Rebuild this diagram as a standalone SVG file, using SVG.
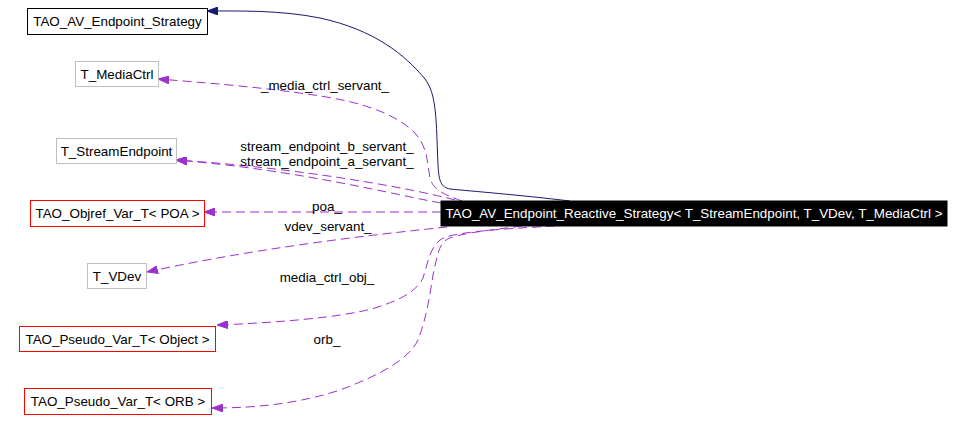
<svg xmlns="http://www.w3.org/2000/svg" width="966" height="431" viewBox="0 0 966 431">
<style>
text{font-family:"Liberation Sans",Arial,sans-serif;font-size:13.4px;text-anchor:middle;fill:#000}
.box{fill:#fff;stroke-width:1}
.blk{stroke:#000}
.gry{stroke:#bfbfbf}
.red{stroke:#ff0000}
.use{fill:none;stroke:#9a32cd;stroke-width:1;stroke-dasharray:9,5}
.inh{fill:none;stroke:#191970;stroke-width:1}
.main{fill:#000;stroke:#000}
.wt{fill:#fff}
</style>
<defs>
<marker id="ap" markerUnits="userSpaceOnUse" viewBox="0 0 11 8" refX="11" refY="4" markerWidth="11" markerHeight="8" orient="auto">
<path d="M0,0 L11,4 L0,8 Z" fill="#9a32cd" stroke="#9a32cd" stroke-width="1"/>
</marker>
<marker id="an" markerUnits="userSpaceOnUse" viewBox="0 0 11 8" refX="11" refY="4" markerWidth="11" markerHeight="8" orient="auto">
<path d="M0,0 L11,4 L0,8 Z" fill="#191970" stroke="#191970" stroke-width="1"/>
</marker>
</defs>
<rect width="966" height="431" fill="#fff"/>
<g id="edges">
<path class="inh" marker-end="url(#an)" d="M570,201 C520,195 470,191 450,189 C441,187 439,182 438,165 C436,120 437,95 425,79 C405,55 375,30 320,18 C280,10 240,11 207,11"/>
<path class="use" marker-end="url(#ap)" d="M462,201 C445,195 433,190 430,178 C427,162 428,148 415,133 C395,113 360,102 320,96 C270,88 210,83 158,79"/>
<path class="use" marker-end="url(#ap)" d="M455,200 C410,188 300,168 176,160"/>
<path class="use" marker-end="url(#ap)" d="M441,203 C400,196 300,170 176,160"/>
<path class="use" marker-end="url(#ap)" d="M441,212 L204,212"/>
<path class="use" marker-end="url(#ap)" d="M447,227 C400,232 270,245 147,272"/>
<path class="use" marker-end="url(#ap)" d="M555,226 C500,229 450,232 440,240 C430,248 428,262 423,278 C416,292 400,300 375,308 C340,318 270,323 217,325"/>
<path class="use" marker-end="url(#ap)" d="M522,226 C490,230 455,234 446,240 C438,246 437,258 433,275 C430,295 426,320 418,340 C408,360 380,375 340,390 C300,403 260,408 212,408"/>
<text x="325" y="90">_media_ctrl_servant_</text>
<text x="327" y="151">stream_endpoint_b_servant_</text>
<text x="327" y="166">stream_endpoint_a_servant_</text>
<text x="327" y="211">poa_</text>
<text x="328" y="231">vdev_servant_</text>
<text x="327" y="282">media_ctrl_obj_</text>
<text x="327" y="344">orb_</text>
</g>
<g id="n_strategy"><rect class="box blk" x="27.5" y="8.5" width="180" height="26"/><text x="117.5" y="26">TAO_AV_Endpoint_Strategy</text></g>
<g id="n_mediactrl"><rect class="box gry" x="75.5" y="61.5" width="83" height="25"/><text x="117" y="79">T_MediaCtrl</text></g>
<g id="n_streamendpoint"><rect class="box gry" x="56.5" y="138.5" width="120" height="25"/><text x="116.5" y="156">T_StreamEndpoint</text></g>
<g id="n_objref_poa"><rect class="box red" x="30.5" y="200.5" width="174" height="26"/><text x="117.5" y="218">TAO_Objref_Var_T&lt; POA &gt;</text></g>
<g id="n_vdev"><rect class="box gry" x="87.5" y="263.5" width="59" height="25"/><text x="117" y="281">T_VDev</text></g>
<g id="n_pseudo_object"><rect class="box red" x="19.5" y="326.5" width="196" height="25" style="stroke:#ff0000"/><text x="117.5" y="344">TAO_Pseudo_Var_T&lt; Object &gt;</text></g>
<g id="n_pseudo_orb"><rect class="box red" x="24.5" y="388.5" width="187" height="26"/><text x="118" y="406">TAO_Pseudo_Var_T&lt; ORB &gt;</text></g>
<g id="n_main"><rect class="main" x="441" y="201" width="506" height="25"/><text class="wt" x="694" y="218">TAO_AV_Endpoint_Reactive_Strategy&lt; T_StreamEndpoint, T_VDev, T_MediaCtrl &gt;</text></g>
</svg>
